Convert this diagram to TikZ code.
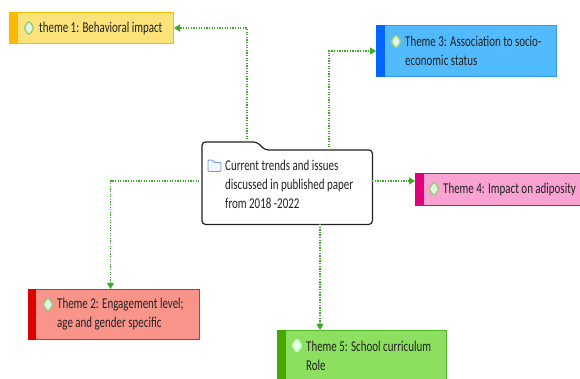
\documentclass[tikz,border=0pt]{standalone}
\usepackage{fontspec}
\setmainfont{Carlito}[FakeStretch=0.73]
\usetikzlibrary{arrows.meta,shapes.geometric}
\definecolor{txt}{HTML}{222222}
\definecolor{conncol}{HTML}{3DAA2A}
\definecolor{iconfill}{HTML}{E4F5DE}
\definecolor{icondraw}{HTML}{94D080}
\definecolor{fa}{RGB}{251,227,122}\definecolor{da}{RGB}{246,190,0}\definecolor{ba}{RGB}{255,184,0}
\definecolor{fb}{RGB}{82,187,255}\definecolor{db}{RGB}{51,153,255}\definecolor{bb}{RGB}{0,102,255}
\definecolor{fc}{RGB}{249,163,211}\definecolor{dc}{RGB}{232,0,127}\definecolor{bc}{RGB}{224,0,122}
\definecolor{fd}{RGB}{249,148,138}\definecolor{dd}{RGB}{232,38,30}\definecolor{bd}{RGB}{221,0,0}
\definecolor{fe}{RGB}{141,224,95}\definecolor{de}{RGB}{85,184,42}\definecolor{be}{RGB}{68,168,0}
\definecolor{docdraw}{RGB}{120,150,220}\definecolor{docfill}{RGB}{240,245,255}
\tikzset{
  themebox/.style={draw, line width=1pt, minimum width=#1, anchor=north west, inner sep=0pt},
  lbl/.style={anchor=west, align=left, inner sep=0pt, text=txt, font=\fontsize{15}{19}\selectfont},
  icon/.style={diamond, draw=icondraw, fill=iconfill, line width=1.4pt, minimum width=11pt, minimum height=15pt, inner sep=0pt, rounded corners=2.5pt},
  conn/.style={draw=conncol, line width=1.3pt, dash pattern=on 1.3pt off 1.3pt, -{Triangle[width=7pt,length=6pt,fill=conncol]}},
}
\begin{document}
\begin{tikzpicture}[x=1pt,y=-1pt]
\useasboundingbox (0,0) rectangle (580,378);
% central node
\node[minimum width=170pt, minimum height=74pt, inner sep=0pt, anchor=north west] (c) at (202,150) {};
\draw[txt, line width=1.2pt, fill=white, rounded corners=3.5pt] (c.south west) -- (202,142) -- (257,142) -- (265,150) -- (c.north east) -- (c.south east) -- cycle;
\coordinate (ctab) at (247,142);
\coordinate (ctop) at (329,150);
\coordinate (cleft) at (202,181);
\coordinate (cright) at (372,181);
\coordinate (cbot) at (320,224);
\draw[line width=0.9pt, draw=docdraw, fill=docfill, rounded corners=1pt] (208,160) -- (208,171.5) -- (221,171.5) -- (221,162.5) -- (214,162.5) -- (212.5,160) -- cycle;
\node[lbl] (ctext) at (225,184) {Current trends and issues\\discussed in published paper\\from 2018 -2022};

% theme 1
\node[themebox=164pt, minimum height=31pt, fill=fa, draw=da] (t1) at (9,12) {};
\fill[ba] (t1.north west) rectangle ([xshift=9pt]t1.south west);
\node[icon] (i1) at (29,28) {};
\node[lbl] (l1) at (39,28) {theme 1: Behavioral impact};

% theme 3
\node[themebox=180pt, minimum height=51pt, fill=fb, draw=db] (t3) at (376,25) {};
\fill[bb] (t3.north west) rectangle ([xshift=9pt]t3.south west);
\node[icon] (i3) at (396,41.5) {};
\node[lbl] (l3) at (405,51) {Theme 3: Association to socio-\\economic status};

% theme 4
\node[themebox=170pt, minimum height=32pt, fill=fc, draw=dc] (t4) at (415,173) {};
\fill[bc] (t4.north west) rectangle ([xshift=9pt]t4.south west);
\node[icon] (i4) at (434,189) {};
\node[lbl] (l4) at (443,189) {Theme 4: Impact on adiposity};

% theme 2
\node[themebox=171pt, minimum height=50pt, fill=fd, draw=dd] (t2) at (28,289) {};
\fill[bd] (t2.north west) rectangle ([xshift=8pt]t2.south west);
\node[icon] (i2) at (48,304.5) {};
\node[lbl] (l2) at (57,314.5) {Theme 2: Engagement level;\\age and gender specific};

% theme 5
\node[themebox=169pt, minimum height=52pt, fill=fe, draw=de] (t5) at (277,330) {};
\fill[be] (t5.north west) rectangle ([xshift=9pt]t5.south west);
\node[icon, fill=white!92!green, draw=white!75!green] (i5) at (297,345.5) {};
\node[lbl] (l5) at (306,355.5) {Theme 5: School curriculum\\Role};

% connectors
\draw[conn] (ctab) |- (t1.east);
\draw[conn] (ctop) |- (t3.west);
\draw[conn] (cright) -- (cright -| t4.west);
\draw[conn] (cleft) -| ([xshift=-3.5pt]t2.north);
\draw[conn] (cbot) -- (cbot |- t5.north);
\end{tikzpicture}
\end{document}
